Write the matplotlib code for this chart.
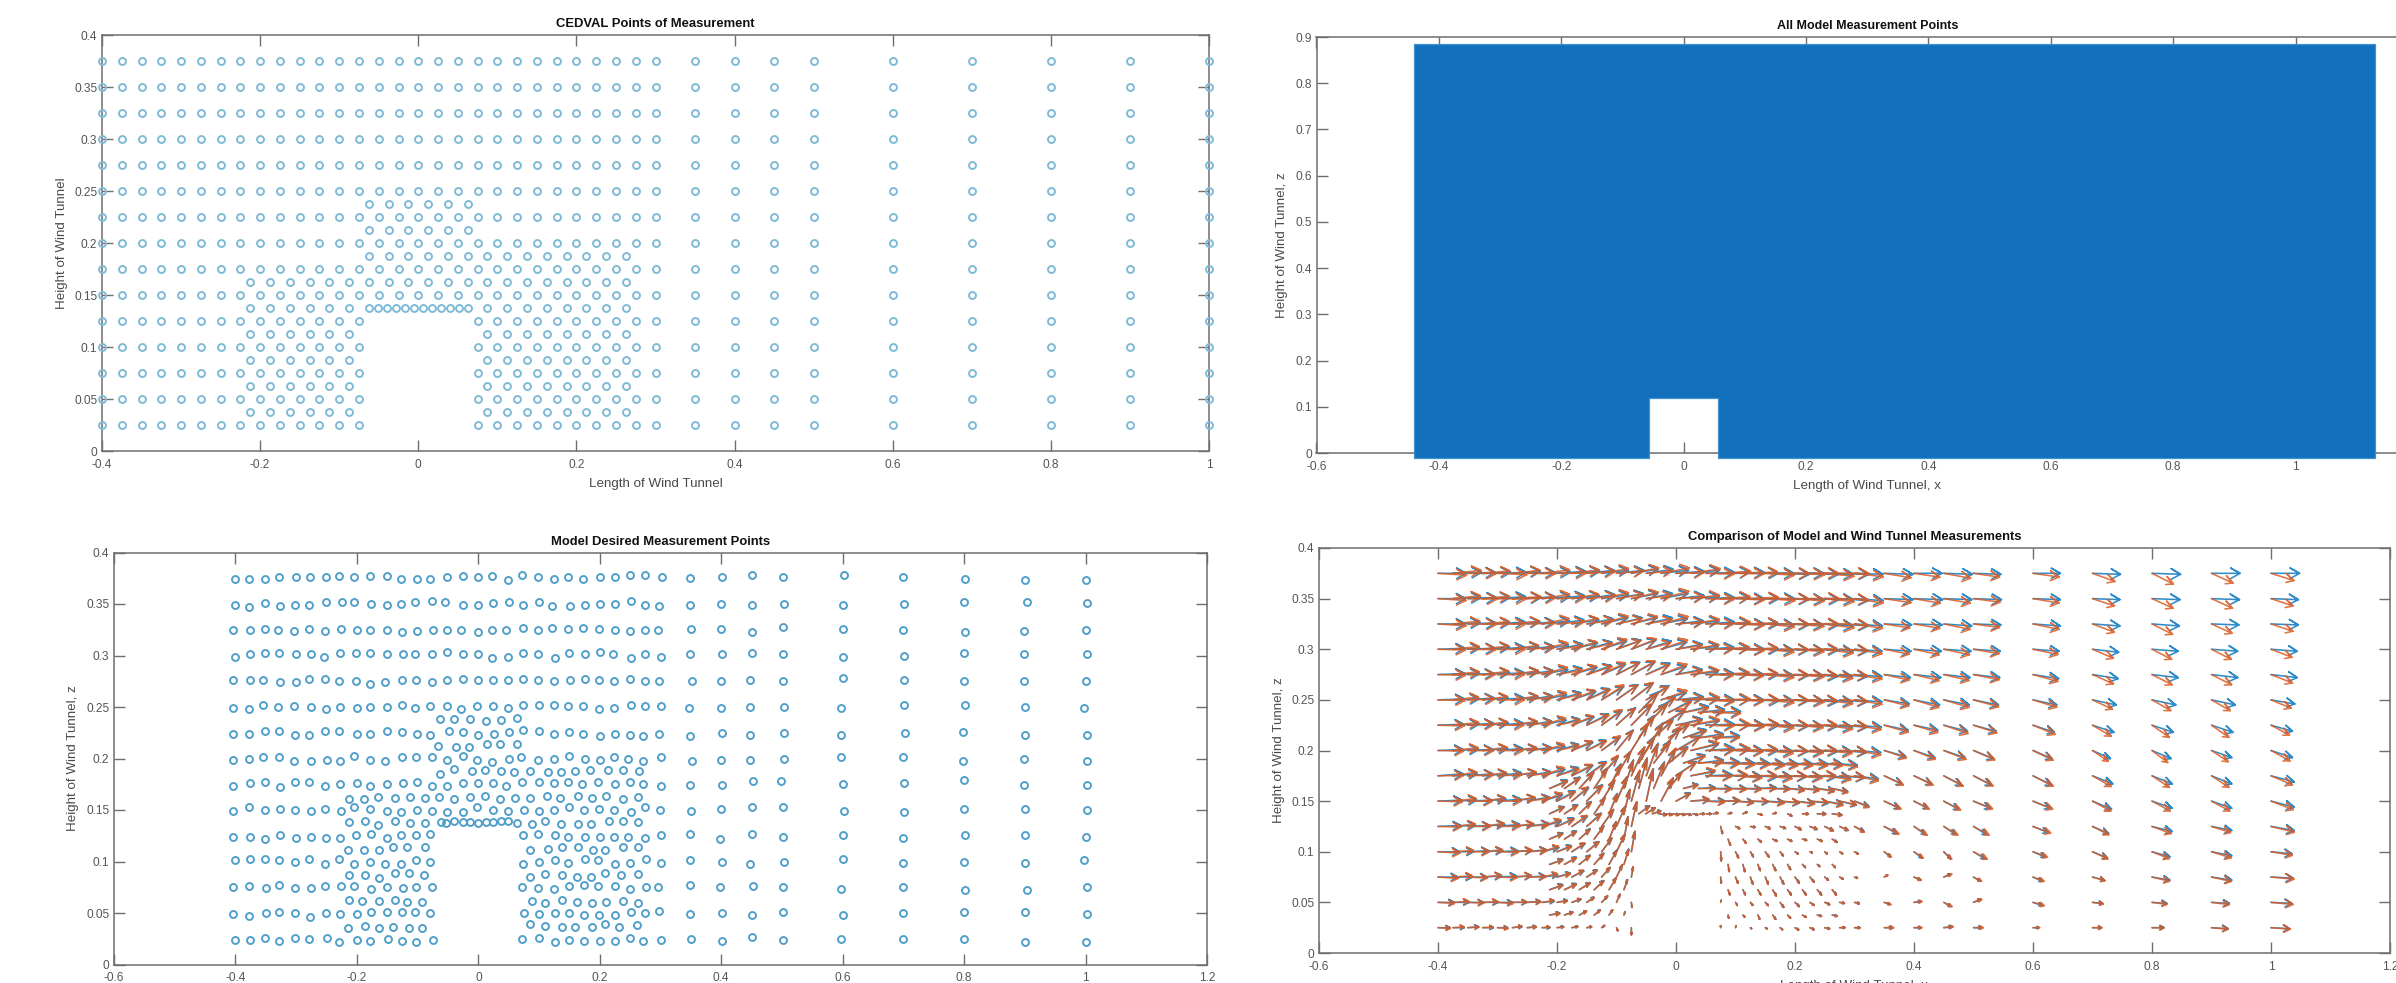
#!/usr/bin/env python3
"""Wind tunnel measurement points: CEDVAL grid, model grid, and model vs tunnel vectors."""

import numpy as np
import matplotlib
matplotlib.use('Agg')
import matplotlib.pyplot as plt

plt.rcParams['font.family'] = ['Liberation Sans', 'DejaVu Sans']

W, H = 2396, 983

# ── measurement grid ──
COL_X = [-0.4, -0.375, -0.35, -0.325, -0.3, -0.275, -0.25, -0.225, -0.2, -0.175,
         -0.15, -0.125, -0.1, -0.075, -0.05, -0.025, 0, 0.025, 0.05, 0.075,
         0.1, 0.125, 0.15, 0.175, 0.2, 0.225, 0.25, 0.275, 0.3,
         0.35, 0.4, 0.45, 0.5, 0.6, 0.7, 0.8, 0.9, 1.0]
FULL_ROWS = [0.375, 0.35, 0.325, 0.3, 0.275, 0.25, 0.225, 0.2, 0.175, 0.15]
SHORT_ROWS = [0.125, 0.1, 0.075, 0.05, 0.025]
# short rows lose the five columns over the block (x = -0.05 .. 0.05)
SHORT_X = COL_X[:14] + COL_X[19:]

STAG_LEFT = [-0.2125, -0.1875, -0.1625, -0.1375, -0.1125, -0.0875]
STAG_RIGHT = [0.0875, 0.1125, 0.1375, 0.1625, 0.1875, 0.2125, 0.2375, 0.2625]
STAG_TOP = [-0.0625, -0.0375, -0.0125, 0.0125, 0.0375, 0.0625]
STAG_ROOF = [-0.0625, -0.0511, -0.0398, -0.0284, -0.017, -0.0057,
             0.0057, 0.017, 0.0284, 0.0398, 0.0511, 0.0625]
STAG_ROWS = [
    (0.2375, STAG_TOP),
    (0.2125, STAG_TOP),
    (0.1875, STAG_TOP + STAG_RIGHT),
    (0.1625, STAG_LEFT + STAG_TOP + STAG_RIGHT),
    (0.1375, STAG_LEFT + STAG_ROOF + STAG_RIGHT),
    (0.1125, STAG_LEFT + STAG_RIGHT),
    (0.0875, STAG_LEFT + STAG_RIGHT),
    (0.0625, STAG_LEFT + STAG_RIGHT),
    (0.0375, STAG_LEFT + STAG_RIGHT),
]

# ── model points: offsets from grid, in thousandths ──
MODEL_DX = [
    [-1,-3,-1,-3,0,-2,-1,-4,-4,-3,-1,-3,-1,-4,-1,0,-1,-3,-1,-3,-2,-1,-3,-2,1,0,-1,-1,2, -1,2,0,1,2,-1,2,1,0],
    [-1,-3,-1,-1,-2,-4,-1,0,-4,-1,-1,-3,-4,-1,-5,0,-1,-1,0,-1,0,-3,1,0,1,0,1,-1,-2, -1,0,0,4,0,1,0,3,2],
    [-4,-1,-1,-5,-4,-4,-3,-1,1,-3,-1,-1,-1,0,-1,-4,-1,-3,-4,-1,-2,-3,-3,-2,-1,0,-1,-1,-4, 0,0,0,1,0,-1,2,-1,0],
    [-1,-1,-1,-3,-1,0,-4,-2,-1,-3,-1,1,-4,-1,-1,0,-1,-3,-1,-1,-2,1,0,0,1,-4,1,-1,0, -1,2,0,1,0,1,0,-1,2],
    [-4,-1,-4,-1,-1,-4,-3,-4,-1,-3,-4,-1,-2,-1,-2,0,0,-1,-1,-1,-2,-1,1,0,-1,-2,-1,-1,-2, 2,0,-2,1,0,1,0,-1,0],
    [-4,-3,-4,-5,-4,-1,-1,-2,1,-4,-1,-1,-4,-4,-1,-4,-3,-1,-1,-1,0,-1,-3,-2,-1,-2,1,-1,0, -3,0,-2,4,-2,1,2,1,-2],
    [-4,-3,-1,-3,-2,-4,-3,-4,1,-3,0,-1,-1,-4,1,-1,-1,1,0,-1,0,-1,0,-2,1,0,-1,-3,-2, -1,2,-2,4,-2,3,-2,1,2],
    [-4,-3,-4,-3,-4,-1,1,-2,-4,-3,-4,-1,-2,-1,-1,-1,-3,-3,0,-4,-2,-1,0,0,1,-2,-3,-3,0, 2,0,-2,4,-2,-1,-2,-1,2],
    [-4,-1,-1,-1,-2,-4,-3,-2,1,-4,-1,1,-1,-1,-1,-1,-1,-1,-4,-3,0,-1,-3,-4,-3,0,-1,-3,0, -1,2,2,-1,0,1,0,-1,2],
    [-4,-3,-1,-1,-2,-1,-3,-1,-4,-3,-1,-3,-1,-1,-1,-1,-3,-1,-1,1,0,-1,0,-1,-1,-2,1,-1,-1, 0,0,0,1,2,1,0,1,2],
    [-4,-1,-1,-1,-1,0,-1,-2,-1,-1,0,-3,-2,-4, -1,-2,1,-2,0,1,-2,-3,-1,0, -1,-2,0,1,0,-1,2,1,0],
    [-1,-1,-1,-3,-2,-4,-3,-4,-4,-3,-4,-3,-2,-4, -1,0,1,-2,0,-3,0,-1,1,0, -1,2,-2,4,0,-1,0,1,-2],
    [-4,-3,1,-3,-2,0,-3,-1,-4,-1,-1,1,-2,-1, -3,-2,-1,0,-1,-3,0,-1,1,-4, -1,-2,2,1,-2,-1,2,3,2],
    [-4,-3,1,-3,-2,-2,-1,-2,1,-1,-1,-1,-4,-4, 1,0,1,0,-1,-1,0,1,-1,-2, -1,2,0,1,0,-1,0,1,2],
    [0,-1,-1,-3,-2,-4,1,-4,1,-3,2,-1,-2,1, -3,0,1,0,-1,1,0,-1,-3,0, 0,2,0,1,-2,-1,0,1,0],
]
MODEL_DZ = [
    [-1,-1,-1,1,1,1,1,2,1,2,2,-1,-1,-1,1,2,1,2,-2,3,1,-1,1,-1,1,1,3,3,1, 0,1,3,1,3,1,-1,-2,-2],
    [-1,-3,1,-2,-1,-1,2,2,2,0,-1,0,2,3,2,-1,-1,1,2,-1,2,-2,-2,-1,0,0,3,-1,-2, -1,0,-1,0,-1,0,2,2,1],
    [0,0,1,0,-1,1,-1,1,0,0,0,-2,-1,0,0,0,-2,0,0,2,0,2,1,2,1,0,-1,0,0, 1,1,-2,3,1,0,-2,-1,0],
    [-1,1,2,2,1,1,-1,2,2,2,1,1,1,1,3,1,1,-2,-1,2,1,-2,2,1,3,1,-2,1,-1, 1,1,2,1,-1,0,2,1,1],
    [1,1,1,-1,-1,2,2,0,0,-3,-1,1,1,-1,1,2,1,1,1,2,1,0,1,2,1,0,2,0,0, 0,0,1,0,3,1,0,0,0],
    [-1,-2,2,0,1,0,-2,0,-1,0,0,2,-1,1,1,-2,1,1,-1,2,2,2,1,1,-2,-1,2,1,1, -1,-1,0,0,-1,2,2,0,-1],
    [-1,-1,2,2,-2,-2,2,2,-1,-1,2,1,-1,-2,2,1,-2,-1,1,3,2,-1,1,-1,-3,-1,-2,-3,-1, -3,0,-2,0,-2,0,1,-2,-2],
    [-1,0,1,1,-2,-2,-1,-2,2,-1,-2,1,1,1,-1,2,-1,-3,0,1,-1,0,2,0,-1,1,0,-2,1, -2,-1,-1,0,1,1,-2,0,-2],
    [-2,1,2,-3,2,2,-2,0,1,-2,0,1,2,-2,-2,1,1,1,-2,2,2,1,2,0,2,0,2,0,-2, -1,-1,3,3,0,1,4,-1,-1],
    [-1,3,0,1,0,-1,1,-1,3,1,-1,-2,0,-1,-2,-2,3,0,-1,0,-1,0,3,0,1,0,-2,3,0, -1,1,3,3,-1,-2,1,1,0],
    [-1,-1,-3,1,-2,-1,-2,-2,1,2,-2,1,1,2, 1,2,1,-1,-1,-1,-1,-1,-2,1, 2,-3,2,-1,1,-2,1,1,-1],
    [1,2,2,1,0,2,-2,2,-2,0,-2,-2,1,0, -2,0,1,-1,2,1,-2,-1,2,-1, 1,0,-2,0,2,-1,0,-1,1],
    [0,1,-1,2,-1,-1,1,1,1,-2,0,-1,0,0, 0,-1,-2,1,2,1,1,-2,0,0, 2,0,1,0,-2,0,-3,-3,0],
    [-1,-3,0,1,0,-4,0,-1,-1,1,1,1,1,0, 0,-1,0,0,-2,-2,-2,1,0,2, -1,0,-2,1,-2,0,1,1,-1],
    [-1,-1,1,-2,1,0,1,-3,-1,-2,0,-2,-3,-1, 0,1,-3,-1,-2,-2,-2,1,-2,-1, 0,-2,2,-1,0,0,0,-3,-3],
]
# staggered rows of the model, read directly
MODEL_STAG_X = [
    [-.063,-.040,-.013,.012,.037,.063],
    [-.066,-.037,-.016,.015,.035,.063],
    [-.063,-.040,-.011,.011,.037,.059,.085,.115,.136,.160,.184,.213,.238,.265],
    [-.213,-.189,-.165,-.138,-.112,-.088,-.064,-.040,-.013,.011,.035,.061,.085,.113,.135,.164,.188,.210,.238,.263],
    [-.213,-.187,-.165,-.138,-.112,-.088,-.062,-.053,-.040,-.026,-.013,-.001,.012,.024,.037,.049,.063,
     .088,.110,.136,.164,.186,.215,.239,.263],
    [-.215,-.189,-.163,-.140,-.117,-.088,.085,.115,.138,.164,.189,.209,.238,.263],
    [-.213,-.187,-.163,-.138,-.115,-.090,.085,.110,.138,.162,.186,.209,.235,.263],
    [-.213,-.191,-.163,-.138,-.117,-.092,.088,.110,.138,.162,.188,.210,.238,.263],
    [-.215,-.187,-.163,-.140,-.115,-.092,.085,.110,.138,.159,.187,.209,.232,.261],
]
MODEL_STAG_Z = [
    [.238,.238,.238,.236,.237,.239],
    [.212,.211,.211,.214,.214,.214],
    [.185,.190,.188,.189,.188,.187,.188,.187,.187,.188,.189,.189,.189,.188],
    [.161,.161,.163,.162,.163,.162,.163,.161,.163,.164,.161,.162,.162,.164,.162,.164,.162,.164,.161,.163],
    [.138,.139,.135,.139,.137,.137,.138,.137,.139,.138,.138,.137,.138,.138,.139,.139,.137,
     .136,.139,.136,.136,.136,.139,.139,.138],
    [.111,.111,.111,.114,.114,.114,.111,.112,.114,.114,.111,.111,.114,.114],
    [.087,.087,.084,.089,.089,.087,.085,.088,.087,.085,.085,.089,.087,.088],
    [.063,.062,.062,.063,.061,.061,.062,.060,.063,.061,.060,.061,.062,.060],
    [.035,.037,.035,.036,.035,.035,.039,.037,.036,.036,.036,.039,.036,.038],
]

# ── all model points: outline of the solid cloud ──
CLOUD_X = [-0.441, 1.129, 1.129, 0.056, 0.056, -0.056, -0.056, -0.441]
CLOUD_Z = [0.885, 0.885, -0.01, -0.01, 0.119, 0.119, -0.01, -0.01]

# ── vectors, thousandths of an axis unit: model on grid rows ──
VEC_U = [
    [47,48,46,47,48,47,46,47,48,47,46,45,46,45,45,46,47,48,48,49,48,47,48,49,48,48,48,49,48,48,47,48,46,46,47,48,48,48],
    [46,47,48,46,47,48,46,47,46,46,47,45,45,44,44,45,47,47,48,48,48,48,49,48,48,49,48,48,48,48,48,47,47,46,46,47,47,46],
    [46,46,47,46,46,46,45,46,45,45,44,44,43,43,44,44,46,47,48,48,48,47,48,48,47,48,48,48,47,46,47,47,46,46,46,46,46,46],
    [45,45,46,45,45,44,44,44,43,43,42,42,41,41,42,43,44,46,47,47,48,47,47,47,47,47,47,47,46,45,46,46,45,44,44,44,44,44],
    [45,45,44,45,44,44,43,43,42,42,41,40,39,39,40,42,44,46,47,47,47,47,47,47,47,46,46,46,46,44,45,44,44,43,43,44,44,44],
    [44,44,44,43,44,43,42,41,40,40,38,37,36,36,38,42,46,47,48,48,47,48,47,47,47,46,46,46,46,42,43,43,42,40,40,40,40,40],
    [43,44,43,43,43,42,41,40,38,37,36,34,32,34,36,40,44,47,48,48,48,48,47,47,46,46,46,46,45,40,40,40,38,36,36,36,36,36],
    [42,43,42,42,42,41,40,38,36,35,32,31,28,28,28,32,40,46,48,48,46,46,46,46,46,46,45,45,44,36,35,36,34,32,30,32,34,36],
    [42,41,42,41,40,40,39,38,36,35,32,28,24,22,20,24,34,40,44,44,44,45,44,44,44,44,43,42,40,30,30,30,30,31,34,34,34,39],
    [40,40,40,39,39,38,37,34,30,28,26,22,18,14,12,20,24,30,32,31,30,30,31,32,32,31,30,28,24,25,23,25,28,29,32,34,34,39],
    [38,38,37,37,37,36,36,32,28,26,24,20,15,9, 3,7,8,8,9,10,12,14,14,16,21,19,20,22,25,27,34,34,39],
    [36,35,35,34,34,33,32,28,24,22,20,17,14,6, 1,5,5,6,5,5,4,4,5,6,10,13,11,19,20,25,30,34,35],
    [33,33,32,32,32,32,30,26,22,20,17,14,10,3, 1,4,4,5,6,7,7,6,6,5,5,10,11,11,15,20,30,34,37],
    [27,27,26,26,25,24,22,20,17,15,12,10,6,1, 1,3,4,5,6,7,7,8,8,8,9,11,11,11,15,17,25,30,35],
    [20,19,18,18,17,16,15,13,11,10,8,5,2,0, 0,1,2,3,4,6,7,8,9,9,13,11,13,13,9,15,20,28,31],
]
VEC_V = [
    [0,1,1,1,1,2,1,1,2,2,3,3,3,4,4,3,2,3,1,1,1,0,0,-1,0,-1,-1,-1,-1,-1,0,-1,-1,0,-1,-1,0,0],
    [0,1,1,1,2,1,2,2,3,3,4,4,5,5,5,5,3,2,1,1,0,0,0,-1,-1,-1,-1,-2,-2,-1,-1,-1,-1,-1,-1,-1,-1,-1],
    [0,1,1,1,2,2,2,3,4,4,5,6,6,6,6,5,3,3,2,1,0,0,-1,-1,-1,-1,-2,-2,-2,-1,-1,-2,-1,-2,-2,-2,-1,-1],
    [1,1,1,2,2,3,3,4,5,6,7,8,9,9,8,7,5,3,2,1,0,0,-1,-1,-1,-1,-2,-2,-2,-2,-2,-2,-2,-2,-3,-2,-2,-2],
    [1,1,1,2,2,3,4,5,6,7,9,10,12,12,11,8,5,3,1,1,0,0,-1,-1,-1,-2,-2,-2,-2,-3,-3,-3,-3,-4,-4,-3,-3,-3],
    [1,1,2,2,2,3,4,5,7,8,11,13,15,16,14,7,3,1,0,0,0,-1,-1,-1,-1,-2,-2,-2,-2,-4,-5,-5,-5,-5,-5,-5,-5,-4],
    [1,1,2,2,2,3,4,5,6,8,11,14,17,20,22,14,6,4,1,0,0,0,-1,-1,-1,-1,-2,-2,-2,-5,-5,-6,-6,-7,-7,-7,-7,-6],
    [1,1,1,2,2,2,3,4,6,8,10,13,20,26,27,22,14,6,2,1,0,0,-1,-1,-1,-1,-1,-2,-2,-6,-7,-7,-8,-8,-8,-8,-7,-7],
    [2,2,2,2,3,3,4,6,8,10,14,19,24,28,32,26,14,4,1,0,-1,-1,-1,-1,-1,-1,-2,-2,-3,-8,-8,-9,-9,-9,-8,-8,-8,-6],
    [1,1,1,2,2,3,4,6,10,13,16,20,24,30,32,22,8,1,0,0,-1,-1,-1,-2,-2,-2,-3,-4,-5,-7,-7,-8,-7,-7,-8,-7,-7,-6],
    [1,1,1,2,2,2,3,5,8,10,13,16,20,24, -7,-2,-1,-2,-2,-3,-3,-4,-4,-5,-7,-8,-8,-8,-6,-7,-5,-4,-4],
    [0,0,1,1,1,1,2,4,6,8,10,13,17,20, -9,-6,-5,-5,-4,-2,-1,-2,-2,-2,-5,-6,-7,-7,-5,-6,-5,-4,-2],
    [0,0,0,1,1,1,1,2,4,6,7,9,12,10, -6,-6,-7,-7,-7,-6,-5,-3,-2,-1,2,-3,3,-4,-4,-3,-3,-3,-1],
    [0,0,0,0,0,0,1,1,2,3,5,6,8,-5, 2,-3,-3,-3,-5,-4,-3,-2,-1,-1,-2,1,-4,3,-3,-1,-1,-1,-1],
    [0,0,1,0,0,1,1,0,1,1,1,2,-3,-7, 2,2,-1,-1,-2,-2,-2,-1,0,0,0,0,1,0,0,0,0,-1,-1],
]
# vectors on staggered rows, same order as STAG_ROWS
STAG_U = [
    [32,36,38,42,44,46],
    [26,32,34,38,42,44],
    [26,28,32,36,42,44,44,44,44,42,42,42,42,42],
    [30,26,24,22,20,16,14,18,22,24,28,30,30,30,30,28,28,28,28,26],
    [24,22,20,18,14,10,18,16,14,12,10,10,9,8,8,8,8,8,6,7,7,6,7,10,14,16],
    [22,20,18,16,12,7,4,5,6,7,7,7,8,8],
    [22,20,18,16,13,8,2,3,4,5,5,5,4,5],
    [22,20,18,16,12,6,3,4,5,6,6,6,7,7],
    [17,14,12,10,6,2,1,3,3,5,5,6,7,8],
]
STAG_V = [
    [20,16,12,6,3,1],
    [22,18,14,8,4,2],
    [26,22,16,8,3,1,0,0,-1,-1,-1,-1,-1,-2],
    [8,11,16,20,24,28,30,26,16,4,1,0,0,0,1,0,-1,-1,-2,-3],
    [7,9,12,16,20,24,8,6,3,-1,-1,-1,-1,-1,-1,0,0,1,1,2,-1,1,-2,0,0,-1],
    [6,8,10,13,17,22,-6,-4,-3,-2,-2,-1,-2,-3],
    [5,7,9,11,14,15,-7,-7,-6,-6,-5,-3,-2,-3],
    [5,6,7,9,12,10,-5,-5,-5,-6,-5,-5,-5,-5],
    [2,3,4,5,5,3,-3,-2,-4,-4,-3,-2,-1,-1],
]
# tunnel vector against the model one, per grid column
RED_GAIN = [1.02,.98,1.03,.97,1.02,.99,1.03,.98,1.02,.97,1.03,1.0,.98,1.02,.97,1.03,.99,
            1.02,.98,1.03,1.0,.97,1.02,.99,1.03,.98,1.02,.99,1.0,
            .93,.92,.94,.95,.95,.80,.75,.75,.80]
RED_TILT = [-.04,.04,-.03,.03,-.05,.02,-.03,.05,-.04,.03,-.03,.04,-.02,.03,-.04,.05,-.03,
            .03,-.04,.02,-.03,.03,-.04,.02,-.03,.03,-.04,.02,-.05,
            -.07,-.08,-.08,-.06,-.08,-.15,-.20,-.20,-.15]
# how that difference changes down the far columns (x >= 0.35), per grid row
FAR_ROW_GAIN = [1.0, 1.0, 1.0, 1.0, 1.02, 1.05, 1.08, 1.1, 1.15, 1.2, 1.25, 1.28, 1.3, 1.32, 1.3]
FAR_ROW_TILT = [1.0, 0.9, 0.9, 0.9, 0.8, 0.7, 0.7, 0.6, 0.5, 0.4, 0.3, 0.3, 0.2, 0.2, 0.1]

# ── ticks ──
X_TICKS_A = [-0.4, -0.2, 0, 0.2, 0.4, 0.6, 0.8, 1]
X_TICKS_B = [-0.6, -0.4, -0.2, 0, 0.2, 0.4, 0.6, 0.8, 1, 1.2]
X_TICKS_C = [-0.6, -0.4, -0.2, 0, 0.2, 0.4, 0.6, 0.8, 1]
Z_TICKS_A = [0, 0.05, 0.1, 0.15, 0.2, 0.25, 0.3, 0.35, 0.4]
Z_TICKS_B = [0, 0.1, 0.2, 0.3, 0.4, 0.5, 0.6, 0.7, 0.8, 0.9]

TICK_COLOR = '#555555'
BOX_COLOR = '#6e6e6e'


def make_axes(fig, left, right, top, bottom, xlim, ylim, xticks, yticks, title,
              ylabel, ylabel_px, xlabel=None, title_size=9.4):
    ax = fig.add_axes([left / W, 1 - bottom / H, (right - left) / W, (bottom - top) / H])
    ax.set_xlim(xlim)
    ax.set_ylim(ylim)
    ax.set_xticks(xticks)
    ax.set_xticklabels([f'{t:g}' for t in xticks])
    ax.set_yticks(yticks)
    ax.set_yticklabels([f'{t:g}' for t in yticks])
    ax.tick_params(direction='in', length=8, width=1.0, color=BOX_COLOR, top=True, right=True,
                   labelsize=8.6, labelcolor=TICK_COLOR)
    ax.tick_params(axis='x', pad=5.5)
    ax.tick_params(axis='y', pad=3.5)
    for spine in ax.spines.values():
        spine.set_color(BOX_COLOR)
        spine.set_linewidth(1.1)
    ax.set_title(title, fontsize=title_size, fontweight='bold', color='#111111', pad=5.5)
    ax.set_ylabel(ylabel, fontsize=9.6, color='#4a4a4a', va='center')
    ax.yaxis.set_label_coords((ylabel_px - left) / (right - left), 0.5)
    if xlabel:
        ax.set_xlabel(xlabel, fontsize=9.6, color='#4a4a4a', labelpad=5)
    return ax


def draw_circles(ax, xs, zs, color):
    ax.plot(xs, zs, linestyle='none', marker='o', markersize=5.0, markeredgewidth=1.4,
            markerfacecolor='none', markeredgecolor=color, clip_on=False, zorder=3)


def grid_points():
    xs, zs = [], []
    for z in FULL_ROWS:
        xs += COL_X
        zs += [z] * len(COL_X)
    for z in SHORT_ROWS:
        xs += SHORT_X
        zs += [z] * len(SHORT_X)
    return xs, zs


def draw_vectors(ax, xs, zs, us, vs, color, alpha):
    # same stroke layout as MATLAB quiver: shaft plus two barbs, head set in data units
    xs, zs = np.asarray(xs), np.asarray(zs)
    tip_x, tip_z = xs + us, zs + vs
    head = 0.33
    barb_ax = tip_x - head * (us + head * vs)
    barb_az = tip_z - head * (vs - head * us)
    barb_bx = tip_x - head * (us - head * vs)
    barb_bz = tip_z - head * (vs + head * us)
    gap = np.full(len(xs), np.nan)
    px = np.column_stack([xs, tip_x, barb_ax, tip_x, barb_bx, gap]).ravel()
    pz = np.column_stack([zs, tip_z, barb_az, tip_z, barb_bz, gap]).ravel()
    ax.plot(px, pz, color=color, alpha=alpha, linewidth=1.15, solid_capstyle='round',
            solid_joinstyle='round', zorder=3)


def main():
    fig = plt.figure(figsize=(W / 100, H / 100), dpi=100, facecolor='white')

    # ── CEDVAL points ──
    ax = make_axes(fig, 102, 1209, 35, 451, (-0.4, 1), (0, 0.4), X_TICKS_A, Z_TICKS_A,
                   'CEDVAL Points of Measurement', 'Height of Wind Tunnel', 62,
                   'Length of Wind Tunnel')
    xs, zs = grid_points()
    for z, row in STAG_ROWS:
        xs = xs + row
        zs = zs + [z] * len(row)
    draw_circles(ax, xs, zs, '#7fbad6')

    # ── all model points ──
    ax = make_axes(fig, 1316.5, 2418, 37, 453, (-0.6, 1.2), (0, 0.9), X_TICKS_C, Z_TICKS_B,
                   'All Model Measurement Points', 'Height of Wind Tunnel, z', 1282,
                   'Length of Wind Tunnel, x', title_size=9.0)
    ax.fill(CLOUD_X, CLOUD_Z, facecolor='#1270bd', edgecolor='#3f92d2', linewidth=0.9,
            clip_on=False, zorder=3)

    # ── model desired points ──
    ax = make_axes(fig, 114, 1207, 552.5, 964.5, (-0.6, 1.2), (0, 0.4), X_TICKS_B, Z_TICKS_A,
                   'Model Desired Measurement Points', 'Height of Wind Tunnel, z', 73)
    xs, zs = [], []
    rows = [(z, COL_X) for z in FULL_ROWS] + [(z, SHORT_X) for z in SHORT_ROWS]
    for (z, cols), dxs, dzs in zip(rows, MODEL_DX, MODEL_DZ):
        assert len(cols) == len(dxs) == len(dzs)
        xs += list(np.array(cols) + np.array(dxs) / 1000)
        zs += list(z + np.array(dzs) / 1000)
    for row_x, row_z in zip(MODEL_STAG_X, MODEL_STAG_Z):
        assert len(row_x) == len(row_z)
        xs += row_x
        zs += row_z
    draw_circles(ax, xs, zs, '#529fc9')

    # ── model vs tunnel vectors ──
    ax = make_axes(fig, 1319, 2390, 548, 953, (-0.6, 1.2), (0, 0.4), X_TICKS_B, Z_TICKS_A,
                   'Comparison of Model and Wind Tunnel Measurements', 'Height of Wind Tunnel, z', 1279,
                   'Length of Wind Tunnel, x')
    qx, qz, qu, qv, gain, tilt = [], [], [], [], [], []
    for i, ((z, cols), us, vs) in enumerate(zip(rows, VEC_U, VEC_V)):
        assert len(cols) == len(us) == len(vs)
        col_gain = list(RED_GAIN if cols is COL_X else RED_GAIN[:14] + RED_GAIN[19:])
        col_tilt = list(RED_TILT if cols is COL_X else RED_TILT[:14] + RED_TILT[19:])
        col_gain[-9:] = [g * FAR_ROW_GAIN[i] for g in col_gain[-9:]]
        col_tilt[-9:] = [t * FAR_ROW_TILT[i] for t in col_tilt[-9:]]
        qx += cols
        qz += [z] * len(cols)
        qu += us
        qv += vs
        gain += col_gain
        tilt += col_tilt
    for (z, cols), us, vs in zip(STAG_ROWS, STAG_U, STAG_V):
        assert len(cols) == len(us) == len(vs)
        qx += cols
        qz += [z] * len(cols)
        qu += us
        qv += vs
        gain += [1.0] * len(cols)
        tilt += [-0.04] * len(cols)
    qu = np.array(qu) / 1000
    qv = np.array(qv) / 1000
    red_u = qu * np.array(gain)
    red_v = qv + qu * np.array(tilt)
    draw_vectors(ax, qx, qz, qu, qv, '#2f8cc9', 1.0)
    draw_vectors(ax, qx, qz, red_u, red_v, '#dc5a22', 0.85)

    fig.savefig('out.png', dpi=100, facecolor='white')
    plt.close(fig)


if __name__ == '__main__':
    main()
